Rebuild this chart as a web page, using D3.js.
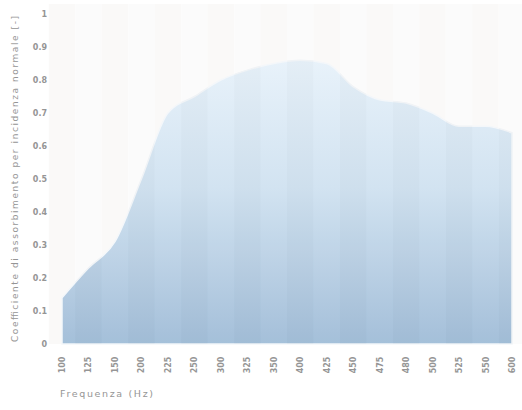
<!DOCTYPE html>
<html>
<head>
<meta charset="utf-8">
<script src="https://cdn.jsdelivr.net/npm/d3@7"></script>
<style>
body{margin:0;background:#fff;}
svg text{font-family:"DejaVu Sans",sans-serif;fill:#959595;}
</style>
</head>
<body>
<svg id="chart"></svg>
<script>
// data
var frequencies = ['100','125','150','200','225','250','300','325','350','400','425','450','475','480','500','525','550','600'];
var coefficients = [0.14,0.23,0.31,0.50,0.70,0.75,0.80,0.83,0.85,0.86,0.85,0.78,0.74,0.73,0.70,0.66,0.66,0.64];
var yTicks = [0,0.1,0.2,0.3,0.4,0.5,0.6,0.7,0.8,0.9,1];
var yLabel = 'Coefficiente di assorbimento per incidenza normale [-]';
var xLabel = 'Frequenza (Hz)';

var width = 522, height = 410;
var svg = d3.select('#chart').attr('width',width).attr('height',height);

var xScale = d3.scalePoint().domain(frequencies).range([62,512]);
var step = xScale.step();
var yScale = d3.scaleLinear().domain([0,1]).range([344,14]);

// gradient for the area
var defs = svg.append('defs');
var grad = defs.append('linearGradient').attr('id','areaGrad')
	.attr('x1',0).attr('y1',0).attr('x2',0).attr('y2',1);
grad.append('stop').attr('offset','0%').attr('stop-color','#e8f2fa');
grad.append('stop').attr('offset','45%').attr('stop-color','#d2e3f1');
grad.append('stop').attr('offset','100%').attr('stop-color','#a3bfd9');

// faint vertical stripes
svg.append('g').selectAll('rect').data(frequencies).enter().append('rect')
	.attr('x',function(d){return xScale(d)-step/2;})
	.attr('y',4)
	.attr('width',step)
	.attr('height',yScale(0)-4)
	.style('fill',function(d,i){return i%2===0 ? '#faf9f8' : '#ffffff';});

var data = frequencies.map(function(f,i){return {f:f,v:coefficients[i]};});

var area = d3.area()
	.x(function(d){return xScale(d.f);})
	.y0(yScale(0))
	.y1(function(d){return yScale(d.v);})
	.curve(d3.curveMonotoneX);

svg.append('path').datum(data)
	.attr('d',area)
	.style('fill','url(#areaGrad)')
	.style('stroke','#f4f7fa')
	.style('stroke-width',1.5);

// stripes visible through the area
svg.append('g').selectAll('rect').data(frequencies).enter().append('rect')
	.attr('x',function(d){return xScale(d)-step/2;})
	.attr('y',4)
	.attr('width',step)
	.attr('height',yScale(0)-4)
	.style('fill',function(d,i){return i%2===0 ? '#ffffff' : '#000000';})
	.style('opacity',0.015);

// y axis labels
svg.append('g').selectAll('text').data(yTicks).enter().append('text')
	.attr('x',47)
	.attr('y',function(d){return yScale(d)+3;})
	.attr('text-anchor','end')
	.style('font-size','8px')
	.style('font-weight','bold')
	.text(function(d){return d===0 ? '0' : (d===1 ? '1' : d3.format('.1f')(d));});

// x axis labels (rotated)
svg.append('g').selectAll('text').data(frequencies).enter().append('text')
	.attr('transform',function(d){return 'translate('+(xScale(d)+3)+',365) rotate(-90)';})
	.attr('text-anchor','middle')
	.style('font-size','8px')
	.style('font-weight','bold')
	.text(function(d){return d;});

// titles
svg.append('text')
	.attr('transform','translate(18,179) rotate(-90)')
	.attr('text-anchor','middle')
	.attr('textLength',326)
	.attr('lengthAdjust','spacing')
	.style('font-size','9px')
	.text(yLabel);
svg.append('text')
	.attr('x',60).attr('y',397)
	.attr('textLength',93)
	.attr('lengthAdjust','spacing')
	.style('font-size','9.5px')
	.text(xLabel);
</script>
</body>
</html>
